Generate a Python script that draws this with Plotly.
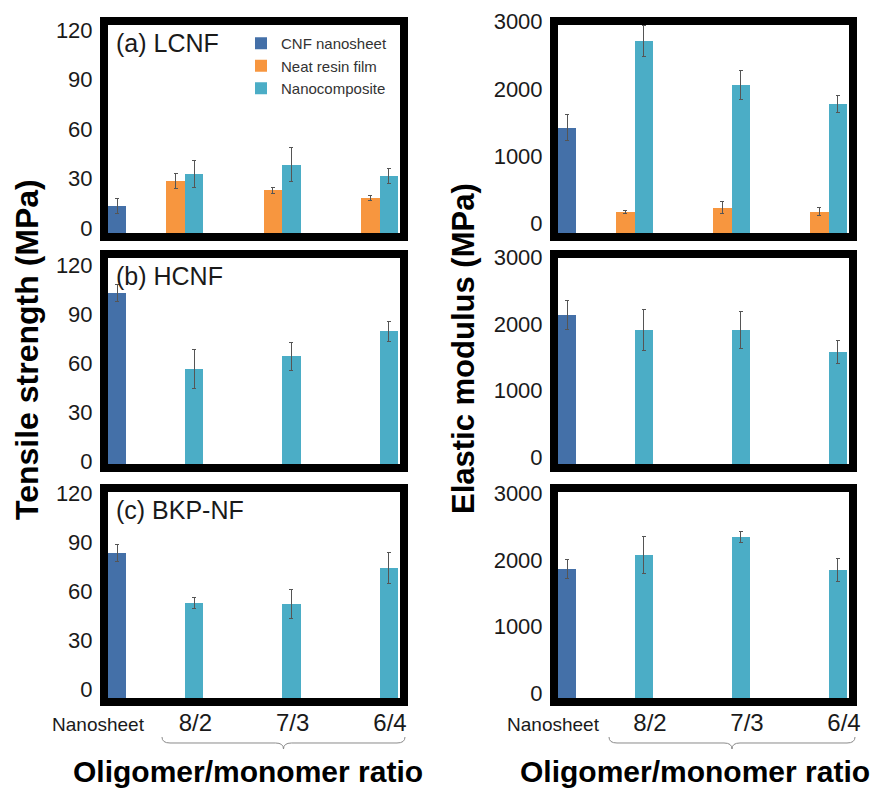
import plotly.graph_objects as go

# ---------------- data ----------------
categories = ["Nanosheet", "8/2", "7/3", "6/4"]
ratios = ["8/2", "7/3", "6/4"]
panel_names = ["(a) LCNF", "(b) HCNF", "(c) BKP-NF"]
series_names = ["CNF nanosheet", "Neat resin film", "Nanocomposite"]

# Tensile strength (MPa)
ts_cnf = [16.4, 104.6, 88.7]
ts_cnf_err = [4.5, 5.5, 5.2]
ts_neat_lcnf = [31.5, 26.0, 21.2]
ts_neat_lcnf_err = [4.5, 1.8, 1.5]
ts_nano_lcnf = [35.7, 41.2, 34.5]
ts_nano_lcnf_err = [8.2, 10.3, 4.8]
ts_nano_hcnf = [58.1, 66.0, 81.3]
ts_nano_hcnf_err = [11.9, 8.6, 6.1]
ts_nano_bkp = [58.1, 57.5, 79.5]
ts_nano_bkp_err = [3.4, 8.6, 9.2]

# Elastic modulus (MPa)
em_cnf = [1572, 2242, 1941]
em_cnf_err = [187, 211, 143]
em_neat_lcnf = [315, 374, 315]
em_neat_lcnf_err = [20, 90, 60]
em_nano_lcnf = [2861, 2202, 1917]
em_nano_lcnf_err = [225, 217, 127]
em_nano_hcnf = [2017, 2017, 1685]
em_nano_hcnf_err = [308, 278, 173]
em_nano_bkp = [2152, 2423, 1926]
em_nano_bkp_err = [271, 90, 166]

ts_ticks = [0, 30, 60, 90, 120]
em_ticks = [0, 1000, 2000, 3000]

# ---------------- style ----------------
C_CNF = "#4470A8"
C_NEAT = "#F7963F"
C_NANO = "#4BADC6"
ERR = dict(type="data", color="#555555", thickness=1, width=2)
W = 0.19
OFF_CNF, OFF_NEAT, OFF_NANO = 0.0, -0.40, -0.21
FONT = "Liberation Sans, Arial, sans-serif"
W_PX, H_PX = 881, 788

fig = go.Figure()

# panel geometry (pixel) -> domains
left_x = (108, 400)
right_x = (558, 849)
rows_y = [(25, 233), (258, 464), (492, 698)]
left_shift = [-5, -3, -9]
right_shift = [-10, -7, -5]

def xd(px):
    return [px[0] / W_PX, px[1] / W_PX]

def yd(py):
    return [1 - py[1] / H_PX, 1 - py[0] / H_PX]

ts_data = [
    (ts_neat_lcnf, ts_neat_lcnf_err, ts_nano_lcnf, ts_nano_lcnf_err),
    (None, None, ts_nano_hcnf, ts_nano_hcnf_err),
    (None, None, ts_nano_bkp, ts_nano_bkp_err),
]
em_data = [
    (em_neat_lcnf, em_neat_lcnf_err, em_nano_lcnf, em_nano_lcnf_err),
    (None, None, em_nano_hcnf, em_nano_hcnf_err),
    (None, None, em_nano_bkp, em_nano_bkp_err),
]

layout_axes = {}
ax_i = 0
for r in range(3):
    for c in range(2):
        ax_i += 1
        xa = "x" if ax_i == 1 else f"x{ax_i}"
        ya = "y" if ax_i == 1 else f"y{ax_i}"
        if c == 0:
            cnf, cnf_e = ts_cnf[r], ts_cnf_err[r]
            neat, neat_e, nano, nano_e = ts_data[r]
        else:
            cnf, cnf_e = em_cnf[r], em_cnf_err[r]
            neat, neat_e, nano, nano_e = em_data[r]
        show = (ax_i == 1)
        fig.add_trace(go.Bar(x=[categories[0]], y=[cnf], error_y=dict(array=[cnf_e], **ERR),
                             marker_color=C_CNF, width=W, offset=OFF_CNF, name=series_names[0],
                             showlegend=show, legendgroup="cnf", xaxis=xa, yaxis=ya,
                             marker_line_width=0))
        if neat is not None:
            fig.add_trace(go.Bar(x=ratios, y=neat, error_y=dict(array=neat_e, **ERR),
                                 marker_color=C_NEAT, width=W, offset=OFF_NEAT, name=series_names[1],
                                 showlegend=show, legendgroup="neat", xaxis=xa, yaxis=ya,
                                 marker_line_width=0))
        fig.add_trace(go.Bar(x=ratios, y=nano, error_y=dict(array=nano_e, **ERR),
                             marker_color=C_NANO, width=W, offset=OFF_NANO, name=series_names[2],
                             showlegend=show, legendgroup="nano", xaxis=xa, yaxis=ya,
                             marker_line_width=0))

        key_x = "xaxis" if ax_i == 1 else f"xaxis{ax_i}"
        key_y = "yaxis" if ax_i == 1 else f"yaxis{ax_i}"
        bottom = (r == 2)
        layout_axes[key_x] = dict(
            domain=xd(left_x if c == 0 else right_x), anchor=ya,
            type="category", categoryorder="array", categoryarray=categories,
            range=[0, 3], showgrid=False, zeroline=False, automargin=False,
            showline=True, mirror=True, linewidth=8, linecolor="black",
            ticks="", showticklabels=bottom,
            tickvals=categories,
            ticktext=['<span style="font-size:19px">Nanosheet</span>'] + ratios,
            tickfont=dict(size=24, color="#1a1a1a", family=FONT),
            ticklabelshift=(-10 if c == 0 else -5),
            ticklabelstandoff=-4,
            fixedrange=True,
        )
        layout_axes[key_y] = dict(
            domain=yd(rows_y[r]), anchor=xa,
            range=[0, 126] if c == 0 else [0, 3100],
            tickvals=ts_ticks if c == 0 else em_ticks,
            showgrid=False, zeroline=False, automargin=False,
            showline=True, mirror=True, linewidth=8, linecolor="black",
            ticks="", tickfont=dict(size=22, color="#1a1a1a", family=FONT),
            ticklabelshift=(left_shift[r] if c == 0 else right_shift[r]),
            ticklabelstandoff=3,
            fixedrange=True,
        )
        # panel label
        if c == 0:
            fig.add_annotation(text=panel_names[r], xref=f"{xa} domain", yref=f"{ya} domain",
                               x=0.022, y=0.915, xanchor="left", yanchor="middle", showarrow=False,
                               font=dict(size=25, color="#1a1a1a", family=FONT))

fig.update_layout(**layout_axes)

# axis titles
fig.add_annotation(text="<b>Tensile strength (MPa)</b>", xref="paper", yref="paper",
                   x=27 / W_PX, y=1 - 350 / H_PX, textangle=-90, showarrow=False,
                   xanchor="center", yanchor="middle",
                   font=dict(size=32, color="black", family=FONT))
fig.add_annotation(text="<b>Elastic modulus (MPa)</b>", xref="paper", yref="paper",
                   x=463 / W_PX, y=1 - 348 / H_PX, textangle=-90, showarrow=False,
                   xanchor="center", yanchor="middle",
                   font=dict(size=31, color="black", family=FONT))
for cx in (248, 695):
    fig.add_annotation(text="<b>Oligomer/monomer ratio</b>", xref="paper", yref="paper",
                       x=cx / W_PX, y=1 - 771 / H_PX, showarrow=False,
                       xanchor="center", yanchor="middle",
                       font=dict(size=30, color="black", family=FONT))

# curly braces under the ratio labels
def brace(x0, x1, yt, yb):
    xm = (x0 + x1) / 2
    ym = (yt + yb) / 2
    r = 8
    def P(x, y):
        return f"{x / W_PX:.5f},{1 - y / H_PX:.5f}"
    return (f"M{P(x0, yt)} Q{P(x0, ym)} {P(x0 + r, ym)} L{P(xm - r, ym)} "
            f"Q{P(xm, ym)} {P(xm, yb)} Q{P(xm, ym)} {P(xm + r, ym)} "
            f"L{P(x1 - r, ym)} Q{P(x1, ym)} {P(x1, yt)}")

for (bx0, bx1) in ((162, 405), (609, 855)):
    fig.add_shape(type="path", xref="paper", yref="paper", path=brace(bx0, bx1, 737, 749),
                  line=dict(color="#8a8a8a", width=1))

fig.update_layout(
    width=W_PX, height=H_PX, autosize=False,
    margin=dict(l=0, r=0, t=0, b=0, autoexpand=False),
    paper_bgcolor="white", plot_bgcolor="white",
    barmode="group", bargap=0,
    showlegend=True,
    legend=dict(x=241 / W_PX, y=1 - 27 / H_PX, xanchor="left", yanchor="top",
                bgcolor="rgba(0,0,0,0)", borderwidth=0,
                font=dict(size=15, color="#333333", family=FONT),
                tracegroupgap=0, itemclick=False, itemdoubleclick=False),
    font=dict(family=FONT),
)

fig.write_html("out.html")
